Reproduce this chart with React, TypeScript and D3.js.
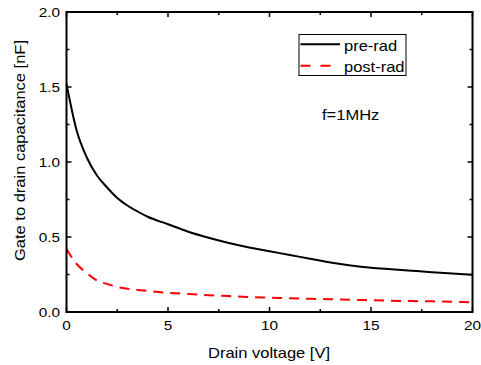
import React from "react";
import * as d3 from "d3";

const voltage = [0, 0.5, 1, 1.5, 2, 2.5, 3, 3.5, 4, 5, 6, 7, 8, 9, 10, 11, 12, 13, 14, 15, 16, 17, 18, 19, 20];
const preRad = [1.52, 1.21, 1.03, 0.91, 0.83, 0.76, 0.71, 0.67, 0.635, 0.585, 0.535, 0.495, 0.46, 0.43, 0.405, 0.38, 0.355, 0.33, 0.31, 0.295, 0.285, 0.275, 0.265, 0.256, 0.248];
const postRad = [0.42, 0.32, 0.26, 0.21, 0.187, 0.167, 0.155, 0.147, 0.14, 0.128, 0.12, 0.112, 0.106, 0.1, 0.096, 0.092, 0.088, 0.085, 0.081, 0.078, 0.075, 0.073, 0.071, 0.068, 0.065];
const xTicks = [0, 5, 10, 15, 20];
const yTicks = [0, 0.5, 1.0, 1.5, 2.0];
const xMinor = [2.5, 7.5, 12.5, 17.5];
const yMinor = [0.25, 0.75, 1.25, 1.75];
const seriesNames = ["pre-rad", "post-rad"];

const SX = 1.18;

function T(props: { x: number; y: number; size: number; anchor?: string; rot?: boolean; children: React.ReactNode }) {
  const { x, y, size, anchor, rot, children } = props;
  const tr = rot ? `translate(${x},${y}) rotate(-90) scale(${SX},1)` : `translate(${x},${y}) scale(${SX},1)`;
  return (
    <text transform={tr} textAnchor={anchor || "start"} fontSize={size} fill="#000">{children}</text>
  );
}

export default function App() {
  const W = 481, H = 365;
  const L = 66.5, R = 472.5, Tp = 12, B = 312;
  const x = d3.scaleLinear().domain([0, 20]).range([L, R]);
  const y = d3.scaleLinear().domain([0, 2]).range([B, Tp]);
  const line = d3.line<number>().x((_, i) => x(voltage[i])).y((d) => y(d)).curve(d3.curveMonotoneX);
  const font = "Liberation Sans, Arial, Helvetica, sans-serif";
  const major = 5, minor = 3;
  return (
    <svg width={W} height={H} style={{ position: "absolute", left: 0, top: 0, background: "#fff" }} fontFamily={font}>
      <rect x={0} y={0} width={W} height={H} fill="#fff" />
      <path d={line(preRad) || ""} fill="none" stroke="#000" strokeWidth={2} />
      <path d={line(postRad) || ""} fill="none" stroke="#ff0000" strokeWidth={2} strokeDasharray="10,7" />
      <rect x={L} y={Tp} width={R - L} height={B - Tp} fill="none" stroke="#000" strokeWidth={2} />
      {xTicks.map((t) => (
        <g key={"xt" + t}>
          <line x1={x(t)} x2={x(t)} y1={B} y2={B - major} stroke="#000" strokeWidth={1.5} />
          <line x1={x(t)} x2={x(t)} y1={Tp} y2={Tp + major} stroke="#000" strokeWidth={1.5} />
          <T x={x(t)} y={330} size={13} anchor="middle">{t}</T>
        </g>
      ))}
      {xMinor.map((t) => (
        <g key={"xm" + t}>
          <line x1={x(t)} x2={x(t)} y1={B} y2={B - minor} stroke="#000" strokeWidth={1.5} />
          <line x1={x(t)} x2={x(t)} y1={Tp} y2={Tp + minor} stroke="#000" strokeWidth={1.5} />
        </g>
      ))}
      {yTicks.map((t) => (
        <g key={"yt" + t}>
          <line x1={L} x2={L + major} y1={y(t)} y2={y(t)} stroke="#000" strokeWidth={1.5} />
          <line x1={R} x2={R - major} y1={y(t)} y2={y(t)} stroke="#000" strokeWidth={1.5} />
          <T x={60} y={y(t) + 4.5} size={13} anchor="end">{t.toFixed(1)}</T>
        </g>
      ))}
      {yMinor.map((t) => (
        <g key={"ym" + t}>
          <line x1={L} x2={L + minor} y1={y(t)} y2={y(t)} stroke="#000" strokeWidth={1.5} />
          <line x1={R} x2={R - minor} y1={y(t)} y2={y(t)} stroke="#000" strokeWidth={1.5} />
        </g>
      ))}
      <T x={269} y={358} size={14} anchor="middle">Drain voltage [V]</T>
      <T x={25} y={150.5} size={14} anchor="middle" rot>Gate to drain capacitance [nF]</T>
      <rect x={299} y={34.5} width={107} height={41} fill="#fff" stroke="#000" strokeWidth={1} />
      <line x1={300.5} x2={340} y1={44.3} y2={44.3} stroke="#000" strokeWidth={2} />
      <line x1={300.5} x2={340} y1={65.7} y2={65.7} stroke="#ff0000" strokeWidth={2} strokeDasharray="10,10" />
      <T x={344} y={50.7} size={14}>{seriesNames[0]}</T>
      <T x={344} y={71.7} size={14}>{seriesNames[1]}</T>
      <T x={322} y={120} size={14}>f=1MHz</T>
    </svg>
  );
}
